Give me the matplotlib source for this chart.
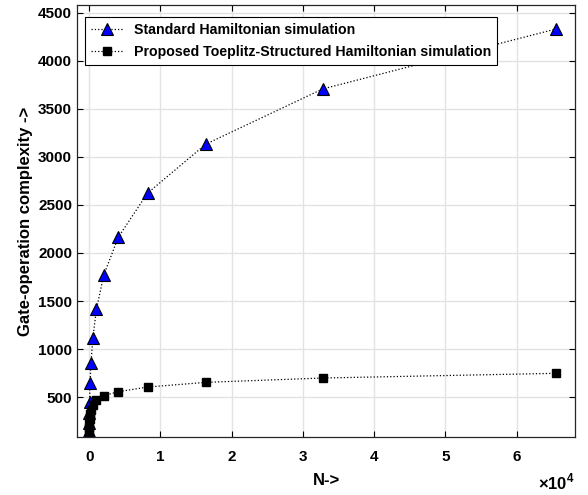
import numpy as np
import matplotlib
matplotlib.use('Agg')
import matplotlib.pyplot as plt

# datos
N = [4, 8, 16, 32, 64, 128, 256, 512, 1024, 2048, 4096, 8192, 16384, 32768, 65536]
estandar = [85, 150, 230, 330, 450, 643, 854, 1112, 1414, 1769, 2165, 2623, 3134, 3708, 4333]
toeplitz = [85, 133, 180, 228, 275, 322, 370, 418, 466, 514, 556, 604, 653, 698, 747]

plt.rcParams['font.family'] = ['Liberation Sans', 'DejaVu Sans']
plt.rcParams['font.weight'] = 'bold'
plt.rcParams['mathtext.fontset'] = 'custom'
plt.rcParams['mathtext.rm'] = 'Liberation Sans'

fig = plt.figure(figsize=(5.88, 4.95), dpi=100)
ax = fig.add_axes([0.131, 0.117, 0.847, 0.873])

ax.plot(N, estandar, ':', color='k', lw=0.9, marker='^', ms=8.5,
        mfc='#0000ff', mec='k', mew=0.8, label='Standard Hamiltonian simulation')
ax.plot(N, toeplitz, ':', color='k', lw=0.9, marker='s', ms=5.5,
        mfc='k', mec='k', label='Proposed Toeplitz-Structured Hamiltonian simulation')

ax.set_xlim(-1700, 68200)
ax.set_ylim(83, 4583)
ax.set_yticks(np.arange(500, 4501, 500))
ax.set_xticks(np.arange(0, 60001, 10000))
ax.set_xticklabels([str(v // 10000) for v in range(0, 60001, 10000)])
# factor de escala del eje x, como en matlab
ax.annotate(r'$\times\mathrm{10}^{\mathrm{4}}$', xy=(1, 0), xycoords='axes fraction',
            xytext=(0, -25), textcoords='offset points', ha='right', va='top',
            fontsize=12)

ax.grid(True, color='#e3e3e3', lw=1)
ax.set_axisbelow(True)
ax.tick_params(direction='in', top=True, right=True, labelsize=11, length=4, width=0.8)
ax.tick_params(axis='x', pad=9)
for s in ax.spines.values():
    s.set_color('#262626')
    s.set_linewidth(0.9)

ax.set_xlabel('N->', fontsize=12, fontweight='bold', labelpad=7)
ax.set_ylabel('Gate-operation complexity ->', fontsize=12, fontweight='bold')

leg = ax.legend(loc='upper left', bbox_to_anchor=(0.016, 0.972), borderaxespad=0,
                fontsize=10.2, fancybox=False, framealpha=1, edgecolor='k',
                borderpad=0.45, handlelength=2.2, labelspacing=0.5)
leg.get_frame().set_linewidth(0.8)

plt.savefig('out.png', dpi=100)
